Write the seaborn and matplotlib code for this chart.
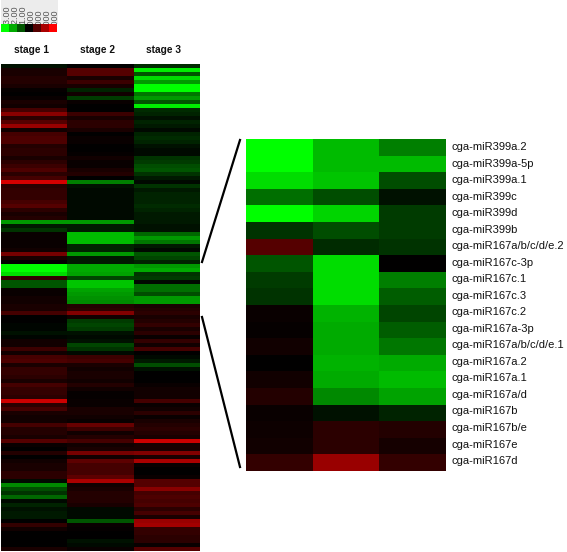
import numpy as np
import pandas as pd
import matplotlib
matplotlib.use('Agg')
import matplotlib.pyplot as plt
from matplotlib.colors import LinearSegmentedColormap
from matplotlib.lines import Line2D
import seaborn as sns

plt.rcParams['font.family'] = ['Liberation Sans', 'DejaVu Sans']

stages = ['stage 1', 'stage 2', 'stage 3']

# overview heatmap, read top to bottom
stage1 = [-.2, .3, .3, .4, .4, .3, .05, 0, .1, .3,
          .2, .8, 1.6, .5, 1.0, 1.8, .2, .8, .9, .9,
          .4, .5, .5, .3, .5, .7, .9, .5, .8, 2.5,
          .5, .6, .6, .6, .8, 1.0, .5, .3, .4, -1.8,
          -.3, -.6, .1, .1, .1, .1, .2, 1.4, .3, 0,
          -3, -3, -2.6, .6, -1, -1, .1, .1, .2, .2,
          .3, .3, .8, 0, 0, -.05, -.05, -.2, -.05, .2,
          .2, .7, .2, .8, .9, .3, .6, .6, .5, .3,
          .8, .6, .6, .5, 2.4, .5, .8, .3, .2, .2,
          .8, .4, .4, .3, 1.0, .1, 0, .4, 0, .2,
          .3, .3, .5, .5, -.1, -1.6, -.9, -.6, -1.2, -.1,
          -.4, -.2, -.3, -.3, 0, .6, .2, 0, 0, 0, 0, .3]
stage2 = [0, 1.0, 1.0, .3, .7, .3, -.4, .2, -.7, .1,
          0, 0, .7, .3, .5, .5, .3, 0, .1, .1,
          0, 0, .05, .2, .1, .1, .3, .4, 0, -1.5,
          -.2, -.1, -.1, -.1, -.1, -.1, -.1, -.1, -.1, -1.8,
          -.3, -.3, -2.2, -2.2, -2.2, -.4, -.4, -1.8, -.3, -.3,
          -2, -2, -1.9, -.8, -2.3, -2.3, -1.9, -1.8, -1.7, -1.6,
          .4, .5, 1.5, .2, -.7, -.8, -.7, -.2, -.1, -.2,
          -.8, -.6, -.1, .7, .8, .3, .2, .3, .3, .2,
          .4, .2, .05, .05, .1, .1, .3, .3, .2, .1,
          1.2, .7, .2, .4, .8, .2, .3, 1.4, .2, 1.1,
          .8, .8, .8, 1.1, 2.0, .2, .3, .4, .4, .4,
          .3, -.1, -.1, -.1, -1.0, .1, .05, 0, 0, -.2, -.1, .1]
stage3 = [-.5, -2.8, -1.0, -2.6, -1.8, -3, -3, -1.4, -1.8, -1.0,
          -2.8, -.5, -.4, -.2, -.4, -.3, -.1, -.4, -.5, -.4,
          -.2, -.1, -.1, -.6, -.7, -.9, -1.0, -.6, -.3, -.1,
          -.6, -.3, -.4, -.4, -.4, -.5, -.4, -.3, -.3, -.3,
          -.2, -.2, -1.2, -1.8, -1.4, -.3, -.1, -1.0, -.8, -.4,
          -1.8, -2.0, -.6, -.7, -.1, -1.3, -1.3, -.9, -1.8, -1.8,
          .3, .4, .5, .3, .4, .6, .3, .5, .1, .6,
          .2, .8, 0, -.1, -.3, -.9, -.2, 0, 0, 0,
          .1, .2, .2, .2, .8, .1, .2, .5, .1, .3,
          .4, .5, .4, .3, 2.4, .3, .3, 1.5, .3, 2.0,
          .1, 0, 0, .1, 1.0, 1.0, 1.6, .8, .9, .8,
          .9, .5, .8, .3, 1.8, 1.9, .6, .6, .5, .5, .1, 1.0]

# enlarged cluster
mirnas = ['cga-miR399a.2', 'cga-miR399a-5p', 'cga-miR399a.1', 'cga-miR399c',
          'cga-miR399d', 'cga-miR399b', 'cga-miR167a/b/c/d/e.2', 'cga-miR167c-3p',
          'cga-miR167c.1', 'cga-miR167c.3', 'cga-miR167c.2', 'cga-miR167a-3p',
          'cga-miR167a/b/c/d/e.1', 'cga-miR167a.2', 'cga-miR167a.1', 'cga-miR167a/d',
          'cga-miR167b', 'cga-miR167b/e', 'cga-miR167e', 'cga-miR167d']
zoom1 = [-3, -3, -2.6, -1.3, -3, -.6, 1.0, -1.0, -.7, -.6,
         .1, .05, .2, .02, .2, .4, .1, .15, .2, .6]
zoom2 = [-2.2, -2.2, -2.3, -.9, -2.5, -.9, -.5, -2.6, -2.6, -2.6,
         -2.1, -2.0, -2.0, -2.1, -2.0, -1.6, -.2, .5, .5, 1.8]
zoom3 = [-1.5, -2.2, -.9, -.2, -.7, -.7, -.6, 0, -1.5, -1.1,
         -.8, -1.1, -1.4, -2.0, -2.2, -1.9, -.4, .4, .25, .6]

# colour key
key_values = [-3, -2, -1, 0, 1, 2, 3]
key_labels = ['-3.00', '-2.00', '-1.00', '0.000', '1.000', '2.000', '3.000']

W, H = 567, 552
cmap = LinearSegmentedColormap.from_list('gbr', ['#00ff00', '#000000', '#ff0000'])
hm = dict(cmap=cmap, vmin=-3, vmax=3, cbar=False, xticklabels=False, yticklabels=False)


def px_axes(fig, x0, y0, x1, y1):
    # pixel box measured from the top left of the picture
    return fig.add_axes([x0 / W, 1 - y1 / H, (x1 - x0) / W, (y1 - y0) / H])


fig = plt.figure(figsize=(W / 100, H / 100), dpi=100)

# overview
overview = pd.DataFrame({'stage 1': stage1, 'stage 2': stage2, 'stage 3': stage3})
ax = px_axes(fig, 1, 64, 200, 551)
sns.heatmap(overview, ax=ax, **hm)
ax.set_xlabel('')
ax.set_ylabel('')

# stage headers sit a little left of the column centres
for name, xp in zip(stages, [32, 98, 163]):
    fig.text(xp / W, 1 - 50 / H, name, ha='center', va='center',
             fontsize=7.3, fontweight='bold', color='#111111')

# zoomed part
detail = pd.DataFrame({'stage 1': zoom1, 'stage 2': zoom2, 'stage 3': zoom3}, index=mirnas)
ax2 = px_axes(fig, 246, 139, 446, 471)
sns.heatmap(detail, ax=ax2, **hm)
ax2.set_xlabel('')
ax2.set_ylabel('')
for i, name in enumerate(mirnas):
    fig.text(452 / W, 1 - (147 + i * 16.53) / H, name, ha='left', va='center',
             fontsize=8.0, color='#111111')

# connector lines
for (x0, y0), (x1, y1) in [((240, 140), (202, 262)), ((202, 317), (240, 467))]:
    fig.add_artist(Line2D([x0 / W, x1 / W], [1 - y0 / H, 1 - y1 / H], color='black', lw=1.6,
                          transform=fig.transFigure))

# colour key with clipped labels
back = px_axes(fig, 1, 0, 58, 24)
back.set_facecolor('#ececec')
back.set_xlim(0, 57)
back.set_ylim(24, 0)
back.set_xticks([])
back.set_yticks([])
for s in back.spines.values():
    s.set_visible(False)
for lab, xp, yp in zip(key_labels, [6, 14, 22, 30, 38, 46, 54], [6, 6, 6, 9, 9, 9, 9]):
    back.text(xp, yp, lab, rotation=90, ha='center', va='top', fontsize=6.5,
              color='#555555', clip_on=True)

key_ax = px_axes(fig, 1, 24, 57, 32)
sns.heatmap(np.array(key_values).reshape(1, -1), ax=key_ax, **hm)

fig.savefig('out.png', dpi=100)
